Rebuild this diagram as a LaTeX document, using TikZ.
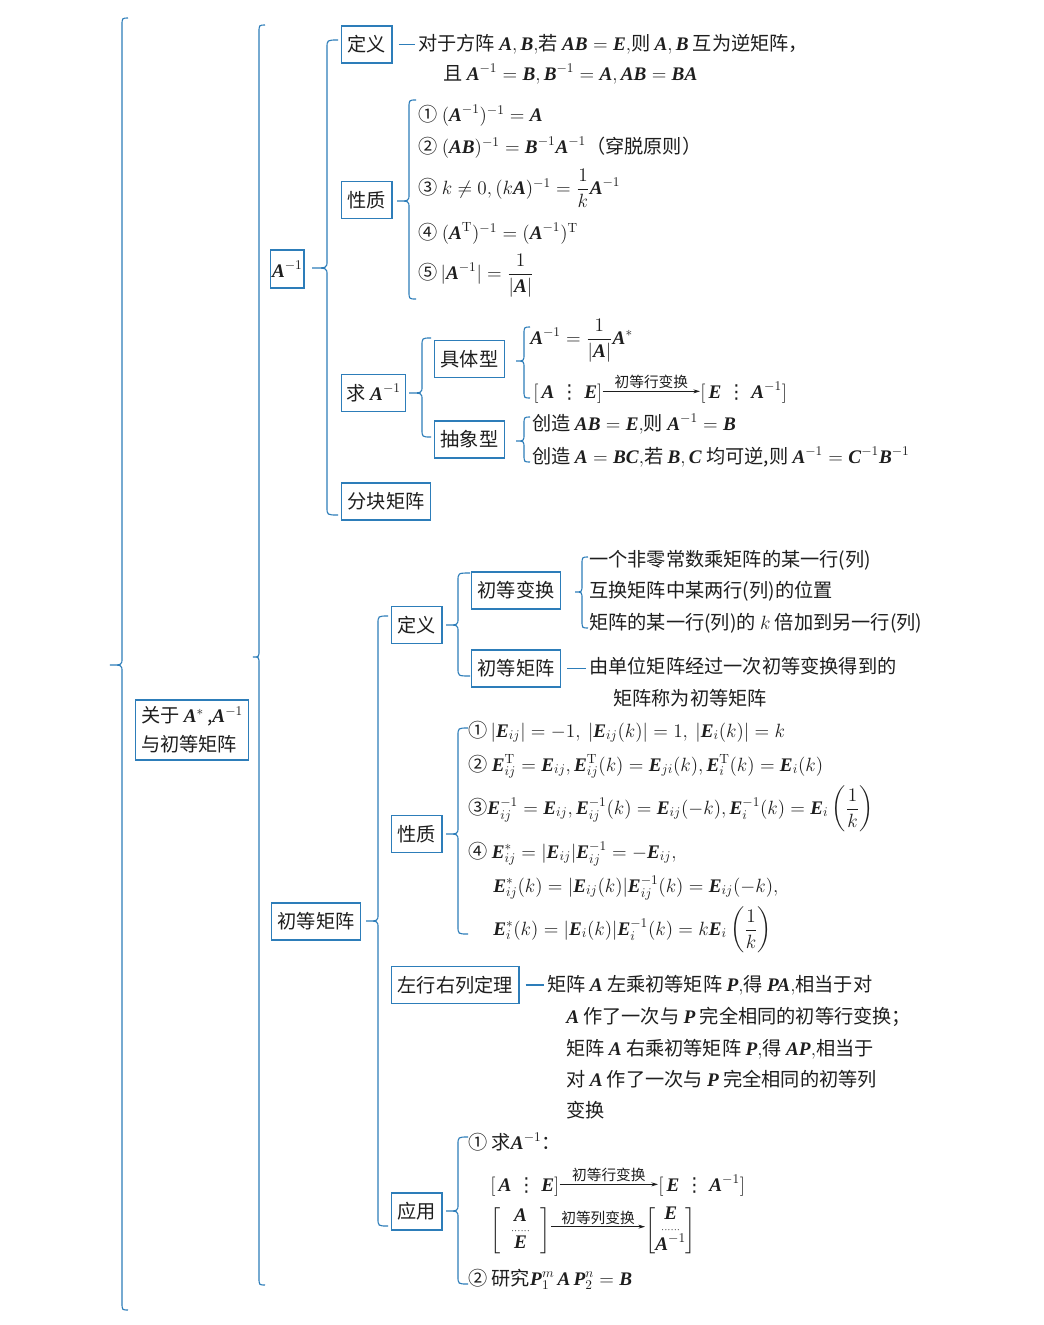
\documentclass[tikz,border=0pt]{standalone}
\usepackage{amsmath}
\usepackage[no-math]{fontspec}
\setmainfont{Noto Sans CJK SC}
\newfontfamily\libser{Liberation Serif}
\newfontfamily\djv{DejaVu Sans}
\newcommand\mb[1]{\text{\libser\bfseries\itshape #1\/}}
\usetikzlibrary{arrows.meta}
\definecolor{bl}{RGB}{45,125,185}
\definecolor{tx}{RGB}{30,30,30}
\newcommand\mybrace[6]{%
  \draw[brc] (#1,#4) .. controls (#2,#4) .. (#2,#4+8) -- (#2,#5-7)
    .. controls (#2,#5) .. (#3,#5) .. controls (#2,#5) .. (#2,#5+7)
    -- (#2,#6-8) .. controls (#2,#6) .. (#1,#6);}
\newcommand\dsep{\;\text{\djv ⋮}\;}
\tikzset{
  bx/.style={draw=bl, line width=1.1pt, inner xsep=4.5pt, inner ysep=0pt,
    minimum height=27.5pt, anchor=west, text=tx},
  txt/.style={anchor=base west, inner sep=0pt, text=tx},
  brc/.style={draw=bl, line width=0.85pt},
  dashc/.style={draw=bl, line width=0.9pt},
  arr/.style={draw=tx, line width=0.6pt, -{Stealth[length=5pt,width=3pt]}},
  lbl/.style={font=\fontsize{11}{13}\selectfont, inner sep=1.5pt, text=tx}
}
\begin{document}
\begin{tikzpicture}[x=0.75pt,y=-0.75pt,font=\fontsize{14.4}{18}\selectfont]
\useasboundingbox[fill=white] (0,0) rectangle (1043,1325);

% main box
\node[bx, align=left, inner xsep=4pt, minimum height=45pt, font=\fontsize{14.4}{22}\selectfont] (root) at (135,730)
  {关于 $\mb{A}^{*}$\,,$\mb{A}^{-1}$\\与初等矩阵};
\mybrace{128}{122}{110}{18}{665}{1310}
\mybrace{265}{259}{253}{25}{657}{1285}

% ===== upper part: A^{-1}
\node[bx, minimum width=24pt, minimum height=28.5pt, inner xsep=1pt] (Ainv) at (270,269) {$\mb{A}^{-1}$};
\mybrace{338}{327}{312}{40}{268}{515}

\node[bx] (defA) at (341,44.5) {定义};
\node[txt] (defA1) at (418,50) {对于方阵 $\mb{A},\mb{B},$若 $\mb{AB}=\mb{E},$则 $\mb{A},\mb{B}$ 互为逆矩阵，};
\node[txt] (defA2) at (443,80) {且 $\mb{A}^{-1}=\mb{B},\mb{B}^{-1}=\mb{A},\mb{AB}=\mb{BA}$};
\draw[dashc] ([xshift=4.5pt]defA.east) -- ([xshift=-2pt]defA.east -| defA1.west);

\node[bx] (propA) at (341,200) {性质};
\mybrace{416}{409}{397}{100}{201}{299}
\node[txt] (pA1) at (418,121) {① $(\mb{A}^{-1})^{-1}=\mb{A}$};
\node[txt] (pA2) at (418,153) {② $(\mb{AB})^{-1}=\mb{B}^{-1}\mb{A}^{-1}$（穿脱原则）};
\node[txt] (pA3) at (418,194) {③ $k\neq 0,(k\mb{A})^{-1}=\dfrac{1}{k}\mb{A}^{-1}$};
\node[txt] (pA4) at (418,239) {④ $(\mb{A}^{\mathrm{T}})^{-1}=(\mb{A}^{-1})^{\mathrm{T}}$};
\node[txt] (pA5) at (418,279) {⑤$\,|\mb{A}^{-1}|=\dfrac{1}{|\mb{A}|}$};

\node[bx, minimum width=48pt, inner xsep=3pt] (qiu) at (341,393) {求 $\mb{A}^{-1}$};
\mybrace{431}{422}{409}{338}{393}{437}
\node[bx] (jtx) at (434,359) {具体型};
\node[bx] (cxx) at (434,439.5) {抽象型};
\mybrace{530}{524}{516}{327}{361}{398}
\mybrace{530}{524}{516}{417}{441}{462}
\node[txt] (jt1) at (530,344) {$\mb{A}^{-1}=\dfrac{1}{|\mb{A}|}\mb{A}^{*}$};
\node[txt] (jt2l) at (533,398) {$[\,\mb{A}\dsep\mb{E}]$};
\node[txt] (jt2r) at (700,398) {$[\,\mb{E}\dsep\mb{A}^{-1}]$};
\draw[arr] ([yshift=5pt]jt2l.base east) -- ([yshift=5pt]jt2r.base west)
  node[midway,above,lbl] (jt2a) {初等行变换};
\node[txt] (cx1) at (532,430) {创造 $\mb{AB}=\mb{E},$则 $\mb{A}^{-1}=\mb{B}$};
\node[txt] (cx2) at (532,463) {创造 $\mb{A}=\mb{BC},$若 $\mb{B},\mb{C}$ 均可逆,则 $\mb{A}^{-1}=\mb{C}^{-1}\mb{B}^{-1}$};

\node[bx] (fkjz) at (341,501.5) {分块矩阵};

% ===== lower part: 初等矩阵
\node[bx] (cdjz) at (271,921.5) {初等矩阵};
\mybrace{388}{378}{366}{616}{921}{1226}

\node[bx] (defB) at (391,625) {定义};
\mybrace{470}{458}{446}{573}{625}{676}
\node[bx] (cdbh) at (471,590.5) {初等变换};
\node[bx] (cdjz2) at (471,668.5) {初等矩阵};
\mybrace{588}{582}{575}{557}{592}{628}
\node[txt] (bh1) at (589,566) {一个非零常数乘矩阵的某一行(列)};
\node[txt] (bh2) at (589,597) {互换矩阵中某两行(列)的位置};
\node[txt] (bh3) at (589,629) {矩阵的某一行(列)的 $k$ 倍加到另一行(列)};
\node[txt] (jz1) at (589,673) {由单位矩阵经过一次初等变换得到的};
\node[txt] (jz2) at (613,705) {矩阵称为初等矩阵};
\draw[dashc] ([xshift=4.5pt]cdjz2.east) -- ([xshift=-2pt]cdjz2.east -| jz1.west);

\node[bx] (propB) at (391,834) {性质};
\mybrace{468}{458}{446}{728}{834}{934}
\node[txt] (e1) at (468,737) {①$\,|\mb{E}_{ij}|=-1,\ |\mb{E}_{ij}(k)|=1,\ |\mb{E}_i(k)|=k$};
\node[txt] (e2) at (468,771) {② $\mb{E}_{ij}^{\mathrm{T}}=\mb{E}_{ij},\mb{E}_{ij}^{\mathrm{T}}(k)=\mb{E}_{ji}(k),\mb{E}_i^{\mathrm{T}}(k)=\mb{E}_i(k)$};
\node[txt] (e3) at (468,814) {③$\mb{E}_{ij}^{-1}=\mb{E}_{ij},\mb{E}_{ij}^{-1}(k)=\mb{E}_{ij}(-k),\mb{E}_i^{-1}(k)=\mb{E}_i\left(\dfrac{1}{k}\right)$};
\node[txt] (e4) at (468,858) {④ $\mb{E}_{ij}^{*}=|\mb{E}_{ij}|\mb{E}_{ij}^{-1}=-\mb{E}_{ij},$};
\node[txt] (e5) at (493,892) {$\mb{E}_{ij}^{*}(k)=|\mb{E}_{ij}(k)|\mb{E}_{ij}^{-1}(k)=\mb{E}_{ij}(-k),$};
\node[txt] (e6) at (493,935) {$\mb{E}_i^{*}(k)=|\mb{E}_i(k)|\mb{E}_i^{-1}(k)=k\mb{E}_i\left(\dfrac{1}{k}\right)$};

\node[bx] (zxyl) at (391,985) {左行右列定理};
\node[txt] (zl1) at (547,991) {矩阵 $\mb{A}$ 左乘初等矩阵 $\mb{P},$得 $\mb{PA},$相当于对};
\node[txt] (zl2) at (566,1023) {$\mb{A}$ 作了一次与 $\mb{P}$ 完全相同的初等行变换；};
\node[txt] (zl3) at (566,1055) {矩阵 $\mb{A}$ 右乘初等矩阵 $\mb{P},$得 $\mb{AP},$相当于};
\node[txt] (zl4) at (566,1086) {对 $\mb{A}$ 作了一次与 $\mb{P}$ 完全相同的初等列};
\node[txt] (zl5) at (566,1117) {变换};
\draw[dashc] ([xshift=4.5pt]zxyl.east) -- ([xshift=-2pt]zxyl.east -| zl1.west);

\node[bx] (yy) at (391,1211.5) {应用};
\mybrace{468}{458}{446}{1137}{1211}{1284}
\node[txt] (yy1) at (468,1149) {① 求$\mb{A}^{-1}$：};
\node[txt] (yy2l) at (490,1191) {$[\,\mb{A}\dsep\mb{E}]$};
\node[txt] (yy2r) at (658,1191) {$[\,\mb{E}\dsep\mb{A}^{-1}]$};
\draw[arr] ([yshift=5pt]yy2l.base east) -- ([yshift=5pt]yy2r.base west)
  node[midway,above,lbl] (yy2a) {初等行变换};
\node[txt] (yy3l) at (490,1236) {$\def\arraystretch{0.8}\left[\begin{array}{@{\;\;}c@{\;\;}}\mb{A}\\[-5pt]{\scriptscriptstyle\cdots\cdots}\\[-3pt]\mb{E}\end{array}\right]$};
\node[txt] (yy3r) at (645,1236) {$\def\arraystretch{0.8}\left[\begin{array}{@{}c@{}}\mb{E}\\[-5pt]{\scriptscriptstyle\cdots\cdots}\\[-3pt]\mb{A}^{-1}\end{array}\right]$};
\draw[arr] ([yshift=7pt]yy3l.base east) -- ([yshift=7pt]yy3r.base west)
  node[midway,above,lbl] (yy3a) {初等列变换};
\node[txt] (yy4) at (468,1285) {② 研究$\mb{P}_1^{m}\,\mb{A}\,\mb{P}_2^{n}=\mb{B}$};
\end{tikzpicture}
\end{document}
